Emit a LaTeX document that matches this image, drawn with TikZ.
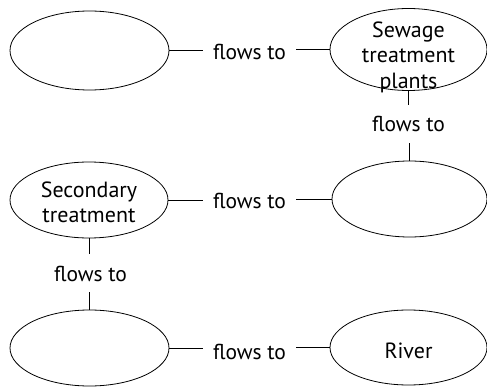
\documentclass[tikz,border=0pt]{standalone}
\usepackage{fontspec}
\setmainfont{PT Sans}
\usetikzlibrary{shapes.geometric}
\begin{document}
\begin{tikzpicture}[x=1pt,y=-1pt,
  oval/.style={draw, ellipse, inner sep=0pt, line width=0.8pt},
  lbl/.style={font=\fontsize{22}{25.5}\selectfont, inner sep=0pt, align=center},
  flow/.style={font=\fontsize{21.5}{25.5}\selectfont, inner xsep=10pt, inner ysep=11pt, anchor=base},
  conn/.style={line width=0.8pt}]
\useasboundingbox (0,0) rectangle (487,387);
% ellipses
\node[oval, minimum width=159pt, minimum height=79pt] (A) at (89.5,50.5) {};
\node[oval, minimum width=157pt, minimum height=82pt] (B) at (408.5,49.5) {};
\node[oval, minimum width=158pt, minimum height=76pt] (C) at (89,200) {};
\node[oval, minimum width=155pt, minimum height=76pt] (D) at (409.5,199) {};
\node[oval, minimum width=159pt, minimum height=76pt] (E) at (89.5,348) {};
\node[oval, minimum width=157pt, minimum height=75pt] (F) at (408.5,347.5) {};
% texts in ellipses
\node[lbl] (tB) at (408.5,57) {Sewage\\treatment\\plants};
\node[lbl] (tC) at (89,202.5) {Secondary\\treatment};
\node[lbl] (tF) at (408.5,351) {River};
% connector labels
\node[flow] (f1) at (249.5,60) {flows to};
\node[flow] (f2) at (408.5,132) {flows to};
\node[flow] (f3) at (249.5,209) {flows to};
\node[flow] (f4) at (90.5,281) {flows to};
\node[flow] (f5) at (249.5,359) {flows to};
% connectors
\draw[conn] (A.east) -- (A.east -| f1.west);
\draw[conn] (f1.east |- B.west) -- (B.west);
\draw[conn] (B.south) -- (B.south |- f2.north);
\draw[conn] (D.north |- f2.south) -- (D.north);
\draw[conn] (C.east) -- (C.east -| f3.west);
\draw[conn] (f3.east |- D.west) -- (D.west);
\draw[conn] (C.south) -- (C.south |- f4.north);
\draw[conn] (E.north |- f4.south) -- (E.north);
\draw[conn] (E.east) -- (E.east -| f5.west);
\draw[conn] (f5.east |- F.west) -- (F.west);
\end{tikzpicture}
\end{document}
